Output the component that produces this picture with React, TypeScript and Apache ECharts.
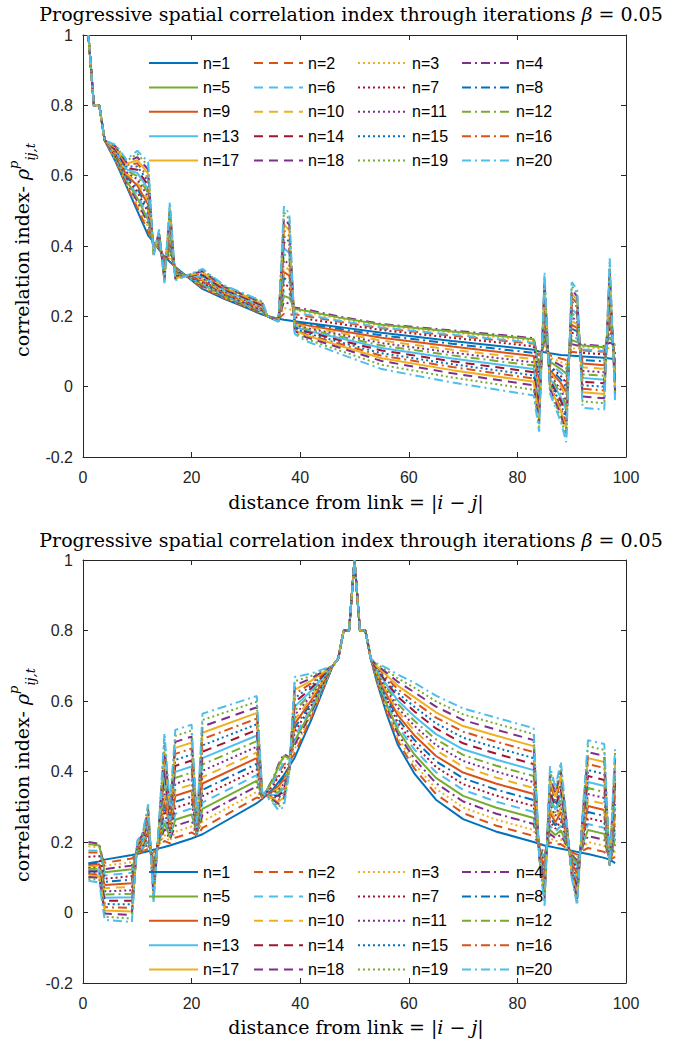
import React, { useEffect, useRef } from 'react';
import * as echarts from 'echarts';

// ---------- top panel: x positions (|i-j|) ----------
const TOP_X = [1,2,3,4,6,8,10,12,13,14,15,16,17,22,26,30,33,34,36,37,38,39,41,47,55,68,83,84,85,86,88,89,90,91,92,96,97,98];

const TOP_N1 = [1,.8,.8,.7,.64,.57,.5,.43,.41,.39,.37,.355,.34,.278,.25,.225,.205,.2,.193,.19,.188,.186,.182,.17,.153,.13,.105,.1,.098,.095,.09,.089,.088,.087,.086,.082,.08,.078];
const TOP_N2 = [1,.8,.8,.7,.643,.574,.509,.441,.408,.393,.366,.364,.338,.281,.252,.227,.207,.2,.193,.207,.204,.206,.201,.185,.166,.145,.122,.088,.11,.089,.08,.076,.099,.097,.103,.099,.095,.099];
const TOP_N3 = [1,.8,.8,.7,.645,.578,.518,.452,.406,.396,.362,.373,.336,.284,.254,.229,.209,.2,.192,.224,.22,.217,.212,.194,.173,.154,.131,.076,.122,.083,.07,.063,.11,.107,.113,.108,.11,.112];
const TOP_N4 = [1,.8,.8,.7,.648,.582,.527,.463,.404,.399,.358,.382,.334,.287,.256,.231,.211,.2,.192,.241,.236,.225,.22,.2,.178,.16,.138,.064,.134,.077,.06,.05,.121,.117,.12,.115,.125,.12];
const TOP_N5 = [1,.8,.8,.7,.65,.586,.536,.474,.402,.402,.354,.391,.332,.29,.258,.233,.213,.2,.191,.258,.252,.221,.216,.197,.176,.157,.135,.052,.146,.071,.05,.037,.132,.127,.117,.112,.14,.116];
const TOP_N6 = [1,.8,.8,.7,.653,.59,.545,.485,.4,.405,.35,.4,.33,.293,.26,.235,.215,.2,.191,.275,.268,.209,.205,.188,.168,.148,.125,.04,.158,.065,.04,.024,.143,.137,.106,.102,.155,.103];
const TOP_N7 = [1,.8,.8,.7,.655,.594,.554,.496,.398,.408,.346,.409,.328,.296,.262,.237,.217,.2,.19,.292,.284,.198,.193,.179,.161,.139,.115,.028,.17,.059,.03,.011,.154,.147,.096,.092,.17,.091];
const TOP_N8 = [1,.8,.8,.7,.658,.598,.563,.507,.396,.411,.342,.418,.326,.299,.264,.239,.219,.2,.19,.309,.3,.183,.178,.165,.146,.122,.096,.016,.182,.053,.02,-.002,.165,.157,.076,.072,.185,.069];
const TOP_N9 = [1,.8,.8,.7,.66,.602,.572,.518,.394,.414,.338,.427,.324,.302,.266,.241,.221,.2,.189,.326,.316,.181,.175,.16,.139,.114,.087,.004,.194,.047,.01,-.015,.176,.167,.066,.061,.2,.06];
const TOP_N10 = [1,.8,.8,.7,.663,.606,.581,.529,.392,.417,.334,.436,.322,.305,.268,.243,.223,.2,.189,.343,.332,.178,.171,.154,.131,.105,.078,-.008,.206,.041,0,-.028,.187,.177,.055,.051,.215,.051];
const TOP_N11 = [1,.8,.8,.7,.665,.61,.59,.54,.39,.42,.33,.445,.32,.308,.27,.245,.225,.2,.188,.36,.348,.176,.167,.149,.124,.097,.069,-.02,.218,.035,-.01,-.041,.198,.187,.045,.041,.23,.042];
const TOP_N12 = [1,.8,.8,.7,.668,.614,.599,.551,.388,.423,.326,.454,.318,.311,.272,.247,.227,.2,.188,.377,.364,.173,.164,.144,.117,.089,.06,-.032,.23,.029,-.02,-.054,.209,.197,.035,.031,.245,.033];
const TOP_N13 = [1,.8,.8,.7,.67,.618,.608,.562,.386,.426,.322,.463,.316,.314,.274,.249,.229,.2,.187,.394,.38,.171,.16,.139,.11,.08,.05,-.044,.242,.023,-.03,-.067,.22,.207,.025,.02,.26,.024];
const TOP_N14 = [1,.8,.8,.7,.673,.622,.617,.573,.384,.429,.318,.472,.314,.317,.276,.251,.231,.2,.187,.411,.396,.168,.157,.133,.103,.072,.041,-.056,.254,.017,-.04,-.08,.231,.217,.014,.01,.275,.015];
const TOP_N15 = [1,.8,.8,.7,.675,.626,.626,.584,.382,.432,.314,.481,.312,.32,.278,.253,.233,.2,.186,.428,.412,.166,.153,.128,.095,.064,.032,-.068,.266,.011,-.05,-.093,.242,.227,.004,0,.29,.006];
const TOP_N16 = [1,.8,.8,.7,.678,.63,.635,.595,.38,.435,.31,.49,.31,.323,.28,.255,.235,.2,.186,.445,.428,.163,.149,.123,.088,.056,.023,-.08,.278,.005,-.06,-.106,.253,.237,-.006,-.011,.305,-.003];
const TOP_N17 = [1,.8,.8,.7,.68,.634,.644,.606,.378,.438,.306,.499,.308,.326,.282,.257,.237,.2,.185,.462,.444,.161,.146,.118,.081,.047,.014,-.092,.29,-.001,-.07,-.119,.264,.247,-.016,-.021,.32,-.012];
const TOP_N18 = [1,.8,.8,.7,.683,.638,.653,.617,.376,.441,.302,.508,.306,.329,.284,.259,.239,.2,.185,.479,.46,.158,.141,.112,.073,.038,.004,-.104,.302,-.007,-.08,-.132,.275,.257,-.028,-.033,.335,-.022];
const TOP_N19 = [1,.8,.8,.7,.685,.642,.662,.628,.374,.444,.298,.517,.304,.332,.286,.261,.241,.2,.184,.496,.476,.154,.136,.104,.062,.026,-.009,-.116,.314,-.013,-.09,-.145,.286,.267,-.042,-.047,.35,-.035];
const TOP_N20 = [1,.8,.8,.7,.688,.646,.671,.639,.372,.447,.294,.526,.302,.335,.288,.263,.243,.2,.184,.513,.492,.15,.13,.095,.05,.012,-.025,-.128,.326,-.019,-.1,-.158,.297,.277,-.06,-.065,.365,-.05];

// ---------- bottom panel: x positions ----------
const BOT_X = [1,3,4,9,10,11,12,13,14,15,16,17,20,21,22,32,33,35,36,37,38,39,42,46,47,48,49,50,51,52,53,54,56,58,61,65,70,76,83,84,85,86,87,88,89,90,91,92,93,96,97,98];

const BOT_N1 = [.14,.145,.15,.163,.166,.17,.174,.178,.182,.186,.19,.195,.21,.216,.222,.31,.322,.35,.37,.39,.415,.44,.545,.7,.72,.8,.8,1,.8,.8,.72,.66,.56,.475,.395,.32,.265,.23,.2,.195,.19,.187,.184,.181,.178,.175,.172,.169,.166,.155,.15,.14];
const BOT_N2 = [.17,.17,.141,.153,.168,.173,.181,.17,.186,.203,.196,.212,.227,.218,.24,.326,.323,.365,.395,.42,.428,.452,.552,.7,.72,.8,.8,1,.8,.8,.72,.663,.567,.486,.409,.336,.282,.247,.217,.193,.181,.199,.193,.194,.183,.171,.164,.175,.183,.172,.149,.158];
const BOT_N3 = [.188,.185,.132,.143,.17,.176,.188,.162,.19,.22,.202,.229,.244,.22,.258,.342,.324,.374,.41,.438,.435,.464,.559,.7,.72,.8,.8,1,.8,.8,.72,.665,.574,.496,.422,.351,.298,.264,.234,.191,.172,.211,.202,.207,.188,.167,.156,.181,.2,.189,.148,.175];
const BOT_N4 = [.2,.195,.123,.133,.172,.179,.195,.154,.194,.237,.208,.246,.261,.222,.276,.358,.325,.38,.42,.45,.44,.476,.566,.7,.72,.8,.8,1,.8,.8,.72,.668,.581,.507,.436,.367,.315,.281,.251,.189,.163,.223,.211,.22,.193,.163,.148,.187,.217,.206,.147,.193];
const BOT_N5 = [.194,.19,.114,.123,.174,.182,.202,.146,.198,.254,.214,.263,.278,.224,.294,.374,.326,.377,.415,.444,.438,.488,.573,.7,.72,.8,.8,1,.8,.8,.72,.67,.588,.517,.449,.382,.331,.298,.268,.187,.154,.235,.22,.233,.198,.159,.14,.193,.234,.223,.146,.21];
const BOT_N6 = [.176,.175,.105,.113,.176,.185,.209,.138,.202,.271,.22,.28,.295,.226,.312,.39,.327,.368,.4,.426,.43,.5,.58,.7,.72,.8,.8,1,.8,.8,.72,.673,.595,.528,.463,.398,.348,.315,.285,.185,.145,.247,.229,.246,.203,.155,.132,.199,.251,.24,.145,.228];
const BOT_N7 = [.158,.16,.096,.103,.178,.188,.216,.13,.206,.288,.226,.297,.312,.228,.33,.406,.328,.359,.385,.408,.423,.512,.587,.7,.72,.8,.8,1,.8,.8,.72,.675,.602,.538,.476,.413,.364,.332,.302,.183,.136,.259,.238,.259,.208,.151,.124,.205,.268,.257,.144,.245];
const BOT_N8 = [.137,.141,.087,.093,.18,.191,.223,.122,.21,.305,.232,.314,.329,.23,.348,.422,.329,.347,.364,.384,.414,.524,.594,.7,.72,.8,.8,1,.8,.8,.72,.678,.609,.549,.49,.429,.381,.349,.319,.181,.127,.271,.247,.272,.213,.147,.116,.211,.285,.274,.143,.263];
const BOT_N9 = [.133,.137,.078,.083,.182,.194,.23,.114,.214,.322,.238,.331,.346,.232,.366,.438,.33,.344,.359,.377,.413,.536,.601,.7,.72,.8,.8,1,.8,.8,.72,.68,.616,.559,.503,.444,.397,.366,.336,.179,.118,.283,.256,.285,.218,.143,.108,.217,.302,.291,.142,.28];
const BOT_N10 = [.13,.132,.069,.073,.184,.197,.237,.106,.218,.339,.244,.348,.363,.234,.384,.454,.331,.342,.353,.371,.412,.548,.608,.7,.72,.8,.8,1,.8,.8,.72,.683,.623,.57,.517,.46,.414,.383,.353,.177,.109,.295,.265,.298,.223,.139,.1,.223,.319,.308,.141,.298];
const BOT_N11 = [.126,.128,.06,.063,.186,.2,.244,.098,.222,.356,.25,.365,.38,.236,.402,.47,.332,.339,.348,.365,.411,.56,.615,.7,.72,.8,.8,1,.8,.8,.72,.685,.63,.58,.53,.475,.43,.4,.37,.175,.1,.307,.274,.311,.228,.135,.092,.229,.336,.325,.14,.315];
const BOT_N12 = [.123,.124,.051,.053,.188,.203,.251,.09,.226,.373,.256,.382,.397,.238,.42,.486,.333,.336,.342,.359,.41,.572,.622,.7,.72,.8,.8,1,.8,.8,.72,.688,.637,.591,.544,.491,.447,.417,.387,.173,.091,.319,.283,.324,.233,.131,.084,.235,.353,.342,.139,.333];
const BOT_N13 = [.119,.12,.042,.043,.19,.206,.258,.082,.23,.39,.262,.399,.414,.24,.438,.502,.334,.333,.336,.352,.409,.584,.629,.7,.72,.8,.8,1,.8,.8,.72,.69,.644,.601,.557,.506,.463,.434,.404,.171,.082,.331,.292,.337,.238,.127,.076,.241,.37,.359,.138,.35];
const BOT_N14 = [.116,.116,.033,.033,.192,.209,.265,.074,.234,.407,.268,.416,.431,.242,.456,.518,.335,.33,.331,.346,.408,.596,.636,.7,.72,.8,.8,1,.8,.8,.72,.693,.651,.612,.571,.522,.48,.451,.421,.169,.073,.343,.301,.35,.243,.123,.068,.247,.387,.376,.137,.368];
const BOT_N15 = [.112,.111,.024,.023,.194,.212,.272,.066,.238,.424,.274,.433,.448,.244,.474,.534,.336,.328,.325,.34,.407,.608,.643,.7,.72,.8,.8,1,.8,.8,.72,.695,.658,.622,.584,.537,.496,.468,.438,.167,.064,.355,.31,.363,.248,.119,.06,.253,.404,.393,.136,.385];
const BOT_N16 = [.109,.107,.015,.013,.196,.215,.279,.058,.242,.441,.28,.45,.465,.246,.492,.55,.337,.325,.32,.333,.406,.62,.65,.7,.72,.8,.8,1,.8,.8,.72,.698,.665,.633,.598,.553,.513,.485,.455,.165,.055,.367,.319,.376,.253,.115,.052,.259,.421,.41,.135,.403];
const BOT_N17 = [.105,.103,.006,.003,.198,.218,.286,.05,.246,.458,.286,.467,.482,.248,.51,.566,.338,.322,.314,.327,.405,.632,.657,.7,.72,.8,.8,1,.8,.8,.72,.7,.672,.643,.611,.568,.529,.502,.472,.163,.046,.379,.328,.389,.258,.111,.044,.265,.438,.427,.134,.42];
const BOT_N18 = [.101,.098,-.003,-.007,.2,.221,.293,.042,.25,.475,.292,.484,.499,.25,.528,.582,.339,.319,.308,.32,.403,.644,.664,.7,.72,.8,.8,1,.8,.8,.72,.703,.679,.654,.625,.584,.546,.519,.489,.161,.037,.391,.337,.402,.263,.107,.036,.271,.455,.444,.133,.438];
const BOT_N19 = [.096,.092,-.012,-.017,.202,.224,.3,.034,.254,.492,.298,.501,.516,.252,.546,.598,.34,.315,.3,.311,.402,.656,.671,.7,.72,.8,.8,1,.8,.8,.72,.705,.686,.664,.638,.599,.562,.536,.506,.159,.028,.403,.346,.415,.268,.103,.028,.277,.472,.461,.132,.455];
const BOT_N20 = [.09,.085,-.021,-.027,.204,.227,.307,.026,.258,.509,.304,.518,.533,.254,.564,.614,.341,.31,.29,.3,.4,.668,.678,.7,.72,.8,.8,1,.8,.8,.72,.708,.693,.675,.652,.615,.579,.553,.523,.157,.019,.415,.355,.428,.273,.099,.02,.283,.489,.478,.131,.473];

const TOP_ROWS = [TOP_N1,TOP_N2,TOP_N3,TOP_N4,TOP_N5,TOP_N6,TOP_N7,TOP_N8,TOP_N9,TOP_N10,TOP_N11,TOP_N12,TOP_N13,TOP_N14,TOP_N15,TOP_N16,TOP_N17,TOP_N18,TOP_N19,TOP_N20];
const BOT_ROWS = [BOT_N1,BOT_N2,BOT_N3,BOT_N4,BOT_N5,BOT_N6,BOT_N7,BOT_N8,BOT_N9,BOT_N10,BOT_N11,BOT_N12,BOT_N13,BOT_N14,BOT_N15,BOT_N16,BOT_N17,BOT_N18,BOT_N19,BOT_N20];

const NAMES = TOP_ROWS.map((_, i) => `n=${i + 1}`);
const X_TICKS = { min: 0, max: 100, interval: 20 };
const Y_TICKS = { min: -0.2, max: 1, interval: 0.2 };

const COLORS = ['#0072BD', '#D95319', '#EDB120', '#7E2F8E', '#77AC30', '#4DBEEE', '#A2142F'];
const DASHES: any[] = ['solid', [9, 6], [2, 3], [9, 4, 2, 4]];
const AX = '#262626';
const SANS = '"Liberation Sans", Arial, Helvetica, sans-serif';
const SERIF = '"DejaVu Serif", "Liberation Serif", serif';

const GRIDS = [
  { left: 83, top: 35, width: 543, height: 422 },
  { left: 83, top: 560, width: 543, height: 423 },
];

function xAxes(gridIndex: number) {
  const base = {
    type: 'value', gridIndex, ...X_TICKS,
    axisLine: { show: true, onZero: false, lineStyle: { color: AX, width: 1 } },
    axisTick: { show: true, inside: true, length: 5, lineStyle: { color: AX } },
    splitLine: { show: false },
  };
  return [
    { ...base, position: 'bottom', axisLabel: { show: true, margin: 12, color: AX, fontSize: 16, fontFamily: SANS } },
    { ...base, position: 'top', axisLabel: { show: false } },
  ];
}
function yAxes(gridIndex: number) {
  const base = {
    type: 'value', gridIndex, ...Y_TICKS,
    axisLine: { show: true, onZero: false, lineStyle: { color: AX, width: 1 } },
    axisTick: { show: true, inside: true, length: 5, lineStyle: { color: AX } },
    splitLine: { show: false },
  };
  return [
    {
      ...base, position: 'left',
      axisLabel: {
        show: true, margin: 10, color: AX, fontSize: 16, fontFamily: SANS,
        formatter: (v: number) => { const r = Math.round(v * 10) / 10; return r === 0 ? '0' : String(r); },
      },
    },
    { ...base, position: 'right', axisLabel: { show: false } },
  ];
}

function makeSeries(xs: number[], rows: number[][], axisIndex: number) {
  return rows.map((ys, i) => ({
    name: NAMES[i],
    type: 'line',
    xAxisIndex: axisIndex,
    yAxisIndex: axisIndex,
    data: xs.map((x, j) => [x, ys[j]]),
    symbol: 'none',
    showSymbol: false,
    clip: true,
    silent: true,
    lineStyle: { color: COLORS[i % 7], width: 2, type: DASHES[i % 4] },
    itemStyle: { color: COLORS[i % 7] },
    z: 2 + i * 0.01,
  }));
}

// legend drawn as a 4-column table (MATLAB NumColumns = 4)
const LEG_COLS = [149, 254, 358, 462];
const LEG_ROW_GAP = 24.4;
function legendGraphics(y0: number) {
  const out: any[] = [];
  NAMES.forEach((name, i) => {
    const c = i % 4;
    const r = Math.floor(i / 4);
    const x = LEG_COLS[c];
    const y = y0 + r * LEG_ROW_GAP;
    const dash = DASHES[i % 4];
    out.push({
      type: 'line', silent: true, z: 100,
      shape: { x1: x, y1: y, x2: x + 49, y2: y },
      style: { stroke: COLORS[i % 7], lineWidth: 2, lineDash: dash === 'solid' ? null : dash },
    });
    out.push({
      type: 'text', silent: true, z: 100, x: x + 54, y,
      style: { text: name, fontFamily: SANS, fontSize: 16, fill: '#000', verticalAlign: 'middle', align: 'left' },
    });
  });
  return out;
}

function titleText(y: number) {
  return {
    type: 'text', x: 351, y,
    style: {
      text: '{a|Progressive spatial correlation index through iterations }{b|β}{a| = 0.05}',
      align: 'center', verticalAlign: 'middle',
      rich: {
        a: { fontFamily: SERIF, fontSize: 19, fill: '#000' },
        b: { fontFamily: SERIF, fontSize: 19, fontStyle: 'italic', fill: '#000' },
      },
    },
  };
}
function xLabel(y: number) {
  return {
    type: 'text', x: 356, y,
    style: {
      text: '{a|distance from link = |}{b|i}{a| − }{b|j}{a||}',
      align: 'center', verticalAlign: 'middle',
      rich: {
        a: { fontFamily: SERIF, fontSize: 19, fill: '#000' },
        b: { fontFamily: SERIF, fontSize: 19, fontStyle: 'italic', fill: '#000' },
      },
    },
  };
}
function yLabel(y: number) {
  return {
    type: 'text', x: 22, y, rotation: Math.PI / 2,
    style: {
      text: '{a|correlation index- }{r|ρ}{sup|p}{sub|ij,t}',
      align: 'center', verticalAlign: 'middle',
      rich: {
        a: { fontFamily: SERIF, fontSize: 19, fill: '#000', lineHeight: 30, verticalAlign: 'middle' },
        r: { fontFamily: SERIF, fontSize: 19, fontStyle: 'italic', fill: '#000', lineHeight: 30, verticalAlign: 'middle' },
        sup: { fontFamily: SERIF, fontSize: 13, fontStyle: 'italic', fill: '#000', lineHeight: 14, verticalAlign: 'top' },
        sub: { fontFamily: SERIF, fontSize: 13, fontStyle: 'italic', fill: '#000', lineHeight: 14, verticalAlign: 'bottom' },
      },
    },
  };
}

export default function App() {
  const ref = useRef<HTMLDivElement>(null);
  useEffect(() => {
    document.body.style.margin = '0';
    const chart = echarts.init(ref.current as HTMLDivElement, null, { renderer: 'svg' });
    const option: any = {
      animation: false,
      backgroundColor: '#fff',
      grid: GRIDS,
      xAxis: [...xAxes(0), ...xAxes(1)],
      yAxis: [...yAxes(0), ...yAxes(1)],
      series: [...makeSeries(TOP_X, TOP_ROWS, 0), ...makeSeries(BOT_X, BOT_ROWS, 2)],
      graphic: [
        titleText(14), xLabel(502), yLabel(250),
        titleText(540), xLabel(1027), yLabel(775),
        ...legendGraphics(63), ...legendGraphics(872),
      ],
    };
    chart.setOption(option);
    return () => chart.dispose();
  }, []);
  return <div ref={ref} style={{ position: 'absolute', left: 0, top: 0, width: 680, height: 1047 }} />;
}
